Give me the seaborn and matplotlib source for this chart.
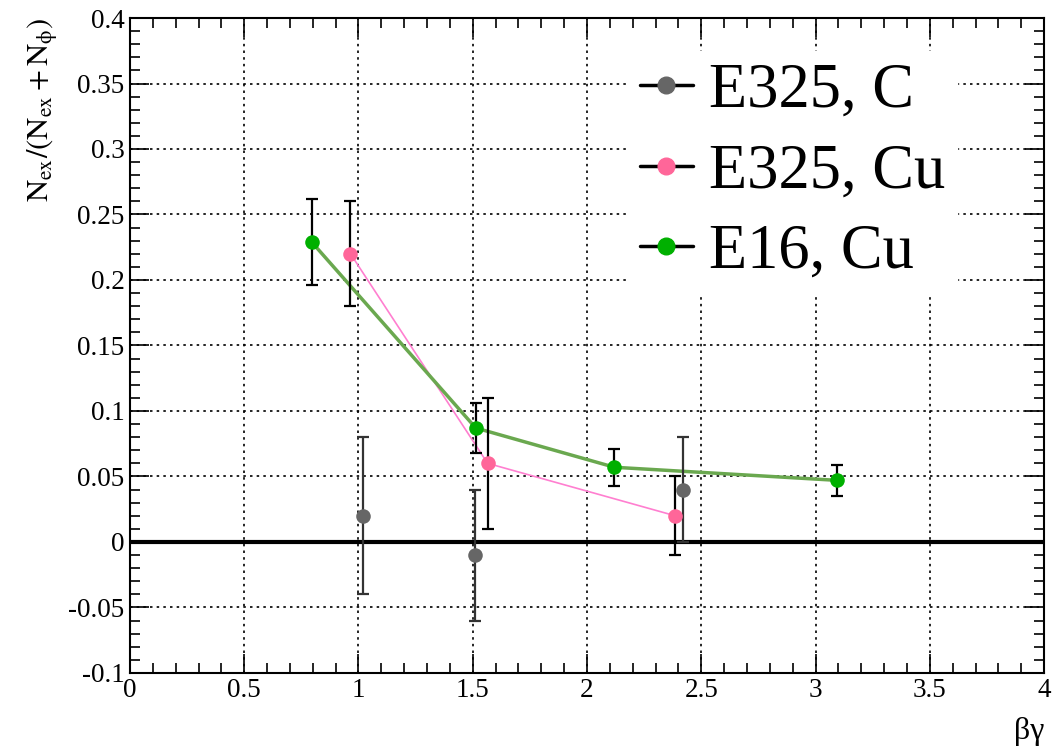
import numpy as np
import pandas as pd
import matplotlib
matplotlib.use("Agg")
import matplotlib.pyplot as plt
from matplotlib.lines import Line2D
from matplotlib.ticker import MultipleLocator
import seaborn as sns

# E325, C
c_x = [1.02, 1.51, 2.42]
c_y = [0.02, -0.01, 0.04]
c_err = [0.06, 0.05, 0.04]

# E325, Cu
cu_x = [0.965, 1.565, 2.385]
cu_y = [0.22, 0.06, 0.02]
cu_err = [0.04, 0.05, 0.03]

# E16, Cu
e16_x = [0.795, 1.513, 2.12, 3.095]
e16_y = [0.229, 0.087, 0.057, 0.047]
e16_err = [0.033, 0.019, 0.014, 0.012]

labels = ["E325, C", "E325, Cu", "E16, Cu"]
marker_colors = ["#666666", "#ff6699", "#00b000"]
line_colors = [None, "#ff7fd0", "#6aa84f"]

sns.set_style("ticks")
plt.rcParams['font.family'] = ['Liberation Serif', 'DejaVu Serif']
plt.rcParams['mathtext.fontset'] = 'stix'
plt.rcParams['text.color'] = 'black'
plt.rcParams['axes.labelcolor'] = 'black'
plt.rcParams['xtick.color'] = 'black'
plt.rcParams['ytick.color'] = 'black'

fig = plt.figure(figsize=(10.6, 7.51), dpi=100)
ax = fig.add_axes([0.1226, 0.104, 0.8624, 0.872])

df_cu = pd.DataFrame({'x': cu_x, 'y': cu_y})
df_e16 = pd.DataFrame({'x': e16_x, 'y': e16_y})
df_c = pd.DataFrame({'x': c_x, 'y': c_y})

# grid + zero line
ax.grid(True, which='major', color='black', linestyle=(0, (1.5, 2.5)), linewidth=1.2)
ax.axhline(0, color='black', linewidth=3, zorder=2)

# connecting lines
sns.lineplot(data=df_cu, x='x', y='y', sort=False, color=line_colors[1], linewidth=1.2, ax=ax, zorder=3)
sns.lineplot(data=df_e16, x='x', y='y', sort=False, color=line_colors[2], linewidth=2.5, ax=ax, zorder=3)

# error bars
ax.errorbar(c_x, c_y, yerr=c_err, fmt='none', ecolor='#333333', elinewidth=1.6, capsize=4, capthick=1.6, zorder=4)
ax.errorbar(cu_x, cu_y, yerr=cu_err, fmt='none', ecolor='black', elinewidth=1.6, capsize=4, capthick=1.6, zorder=4)
ax.errorbar(e16_x, e16_y, yerr=e16_err, fmt='none', ecolor='black', elinewidth=1.6, capsize=4, capthick=1.6, zorder=4)

# markers
for d, col in zip([df_c, df_cu, df_e16], marker_colors):
    sns.scatterplot(data=d, x='x', y='y', color=col, s=110, edgecolor=col, linewidth=0, ax=ax, zorder=5)

ax.set_xlim(0, 4)
ax.set_ylim(-0.1, 0.4)
ax.xaxis.set_minor_locator(MultipleLocator(0.1))
ax.yaxis.set_minor_locator(MultipleLocator(0.01))
ax.set_xticks(np.arange(0, 4.01, 0.5))
ax.set_xticklabels(['0', '0.5', '1', '1.5', '2', '2.5', '3', '3.5', '4'])
ax.set_yticks(np.arange(-0.1, 0.401, 0.05))
ax.set_yticklabels(['-0.1', '-0.05', '0', '0.05', '0.1', '0.15', '0.2', '0.25', '0.3', '0.35', '0.4'])
ax.tick_params(which='major', direction='in', length=14, width=1.2, top=True, right=True,
               labelsize=19.5, pad=4, color='black', labelcolor='black')
ax.tick_params(which='minor', direction='in', length=7, width=1.2, top=True, right=True, color='black')
for s in ax.spines.values():
    s.set_linewidth(1.5)
    s.set_color('black')

ax.set_xlabel('βγ', fontsize=23, loc='right', labelpad=10)
ax.set_ylabel(r'$\mathrm{N_{ex}/(N_{ex}+N_{\phi})}$', fontsize=22, loc='top', labelpad=6)

handles = [Line2D([0], [0], color='black', linewidth=2.5, marker='o', markersize=12,
                  markerfacecolor=c, markeredgecolor=c) for c in marker_colors]
leg = ax.legend(handles, labels, loc='upper left', bbox_to_anchor=(0.51, 0.998),
                fontsize=45, frameon=True, handlelength=0.85, handletextpad=0.25,
                labelspacing=0.36, borderpad=0.2, fancybox=False)
leg.get_frame().set_facecolor('white')
leg.get_frame().set_edgecolor('white')
leg.get_frame().set_alpha(1)
leg.set_zorder(10)

fig.savefig('out.png', dpi=100)
